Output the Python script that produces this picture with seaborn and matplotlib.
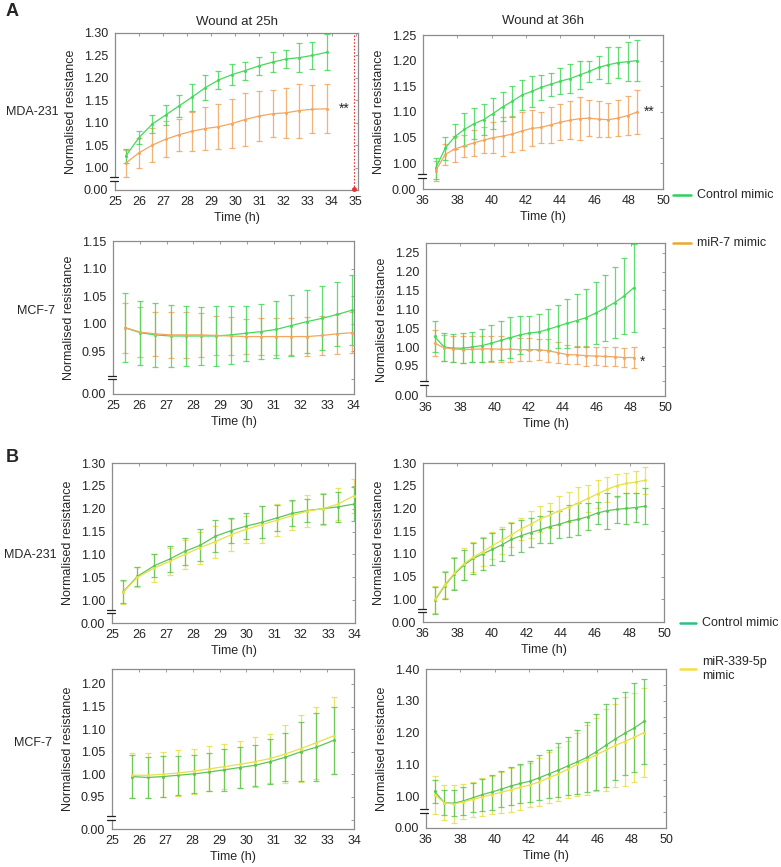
import matplotlib
matplotlib.use("Agg")
import matplotlib.pyplot as plt
import seaborn as sns
import numpy as np
import pandas as pd
from matplotlib.lines import Line2D
from matplotlib.patches import Rectangle

sns.set_theme(style="white")
plt.rcParams['font.family'] = ['Liberation Sans', 'DejaVu Sans']

# ---------------- data ----------------
# Panel A, MDA-231, wound at 25h
a1_t = [25.45, 26.0, 26.55, 27.1, 27.65, 28.2, 28.75, 29.3, 29.85, 30.4, 31.0, 31.55, 32.1, 32.65, 33.2, 33.8]
a1_ctrl = [1.026, 1.067, 1.097, 1.117, 1.137, 1.157, 1.178, 1.195, 1.207, 1.216, 1.227, 1.235, 1.242, 1.245, 1.250, 1.257]
a1_ctrl_err = [0.015, 0.015, 0.020, 0.022, 0.025, 0.030, 0.028, 0.020, 0.023, 0.020, 0.020, 0.023, 0.020, 0.032, 0.030, 0.040]
a1_mir = [1.010, 1.033, 1.050, 1.063, 1.073, 1.081, 1.087, 1.091, 1.098, 1.107, 1.115, 1.120, 1.122, 1.127, 1.130, 1.131]
a1_mir_err = [0.030, 0.033, 0.038, 0.040, 0.036, 0.043, 0.048, 0.050, 0.055, 0.060, 0.055, 0.052, 0.055, 0.060, 0.053, 0.055]

# Panel A, MDA-231, wound at 36h
a2_t = [36.73, 37.29, 37.85, 38.41, 38.97, 39.53, 40.09, 40.65, 41.21, 41.77, 42.33, 42.89, 43.45, 44.01, 44.57, 45.13, 45.69, 46.25, 46.81, 47.37, 47.93, 48.49]
a2_ctrl = [0.990, 1.029, 1.052, 1.066, 1.077, 1.085, 1.097, 1.110, 1.121, 1.133, 1.140, 1.148, 1.154, 1.160, 1.165, 1.172, 1.179, 1.187, 1.192, 1.196, 1.198, 1.200]
a2_ctrl_err = [0.020, 0.022, 0.025, 0.033, 0.030, 0.030, 0.030, 0.028, 0.030, 0.030, 0.030, 0.025, 0.022, 0.025, 0.028, 0.027, 0.020, 0.022, 0.035, 0.030, 0.038, 0.040]
a2_mir = [0.985, 1.017, 1.028, 1.034, 1.040, 1.045, 1.050, 1.053, 1.057, 1.063, 1.068, 1.070, 1.075, 1.080, 1.084, 1.087, 1.088, 1.086, 1.085, 1.088, 1.093, 1.100]
a2_mir_err = [0.020, 0.020, 0.025, 0.022, 0.025, 0.025, 0.030, 0.038, 0.035, 0.037, 0.035, 0.030, 0.035, 0.035, 0.037, 0.042, 0.035, 0.035, 0.033, 0.035, 0.038, 0.042]

# Panel A, MCF-7, wound at 25h
a3_t = [25.45, 26.02, 26.57, 27.15, 27.71, 28.28, 28.83, 29.39, 29.97, 30.53, 31.1, 31.66, 32.24, 32.81, 33.38, 33.94]
a3_ctrl = [0.993, 0.984, 0.980, 0.978, 0.978, 0.978, 0.978, 0.980, 0.983, 0.986, 0.990, 0.997, 1.004, 1.010, 1.017, 1.025]
a3_ctrl_err = [0.062, 0.058, 0.058, 0.057, 0.055, 0.052, 0.055, 0.053, 0.050, 0.050, 0.052, 0.055, 0.057, 0.058, 0.058, 0.063]
a3_mir = [0.993, 0.985, 0.982, 0.980, 0.980, 0.980, 0.979, 0.978, 0.977, 0.977, 0.977, 0.977, 0.977, 0.979, 0.982, 0.984]
a3_mir_err = [0.045, 0.045, 0.040, 0.042, 0.042, 0.040, 0.035, 0.034, 0.032, 0.033, 0.033, 0.034, 0.036, 0.035, 0.036, 0.037]

# Panel A, MCF-7, wound at 36h
a4_t = [36.5, 37.06, 37.61, 38.17, 38.72, 39.28, 39.83, 40.39, 40.94, 41.5, 42.05, 42.61, 43.16, 43.72, 44.27, 44.83, 45.38, 45.94, 46.49, 47.05, 47.6, 48.16]
a4_ctrl = [1.028, 1.000, 0.997, 0.997, 1.000, 1.004, 1.010, 1.018, 1.025, 1.032, 1.037, 1.040, 1.047, 1.055, 1.063, 1.070, 1.078, 1.090, 1.103, 1.118, 1.135, 1.157]
a4_ctrl_err = [0.040, 0.037, 0.038, 0.040, 0.040, 0.045, 0.048, 0.052, 0.055, 0.050, 0.045, 0.048, 0.055, 0.057, 0.065, 0.070, 0.077, 0.083, 0.087, 0.093, 0.100, 0.117]
a4_mir = [1.010, 0.998, 0.995, 0.993, 0.994, 0.995, 0.995, 0.994, 0.994, 0.993, 0.993, 0.993, 0.990, 0.985, 0.980, 0.979, 0.977, 0.976, 0.975, 0.974, 0.972, 0.972]
a4_mir_err = [0.035, 0.035, 0.035, 0.035, 0.035, 0.035, 0.035, 0.035, 0.033, 0.030, 0.030, 0.028, 0.030, 0.028, 0.025, 0.025, 0.027, 0.025, 0.025, 0.025, 0.025, 0.027]

# Panel B, MDA-231, 25h
b1_t = [25.41, 25.94, 26.56, 27.14, 27.70, 28.27, 28.83, 29.41, 29.97, 30.54, 31.12, 31.68, 32.24, 32.80, 33.37, 33.95]
b1_ctrl = [1.018, 1.052, 1.075, 1.090, 1.107, 1.120, 1.140, 1.152, 1.162, 1.170, 1.180, 1.190, 1.196, 1.200, 1.204, 1.210]
b1_ctrl_err = [0.025, 0.020, 0.025, 0.028, 0.030, 0.035, 0.035, 0.028, 0.028, 0.035, 0.028, 0.028, 0.025, 0.033, 0.033, 0.037]
b1_mir = [1.017, 1.050, 1.070, 1.085, 1.100, 1.115, 1.128, 1.143, 1.155, 1.165, 1.175, 1.185, 1.195, 1.200, 1.210, 1.228]
b1_mir_err = [0.025, 0.022, 0.030, 0.030, 0.032, 0.035, 0.035, 0.035, 0.030, 0.040, 0.035, 0.032, 0.035, 0.035, 0.035, 0.038]

# Panel B, MDA-231, 36h
b2_t = [36.7, 37.26, 37.81, 38.37, 38.92, 39.48, 40.03, 40.59, 41.14, 41.7, 42.25, 42.81, 43.36, 43.92, 44.47, 45.03, 45.58, 46.14, 46.69, 47.25, 47.8, 48.36, 48.91]
b2_ctrl = [0.998, 1.030, 1.055, 1.075, 1.090, 1.100, 1.110, 1.120, 1.132, 1.140, 1.147, 1.153, 1.160, 1.165, 1.172, 1.176, 1.182, 1.190, 1.195, 1.198, 1.200, 1.202, 1.205]
b2_ctrl_err = [0.030, 0.030, 0.035, 0.033, 0.035, 0.035, 0.035, 0.035, 0.035, 0.035, 0.033, 0.030, 0.035, 0.030, 0.035, 0.035, 0.030, 0.025, 0.040, 0.030, 0.035, 0.032, 0.040]
b2_mir = [1.000, 1.032, 1.057, 1.078, 1.093, 1.105, 1.118, 1.130, 1.142, 1.155, 1.165, 1.177, 1.185, 1.195, 1.203, 1.212, 1.222, 1.232, 1.242, 1.250, 1.255, 1.258, 1.262]
b2_mir_err = [0.030, 0.030, 0.035, 0.035, 0.033, 0.032, 0.030, 0.030, 0.028, 0.025, 0.030, 0.028, 0.028, 0.032, 0.033, 0.035, 0.030, 0.030, 0.028, 0.025, 0.022, 0.025, 0.030]

# Panel B, MCF-7, 25h
b3_t = [25.76, 26.33, 26.9, 27.47, 28.05, 28.61, 29.18, 29.75, 30.32, 30.89, 31.45, 32.03, 32.6, 33.24]
b3_ctrl = [0.995, 0.993, 0.995, 0.998, 1.001, 1.005, 1.010, 1.015, 1.020, 1.028, 1.038, 1.050, 1.060, 1.075]
b3_ctrl_err = [0.047, 0.045, 0.045, 0.043, 0.042, 0.042, 0.047, 0.045, 0.045, 0.050, 0.053, 0.065, 0.075, 0.075]
b3_mir = [0.998, 0.998, 1.000, 1.003, 1.007, 1.012, 1.017, 1.022, 1.028, 1.035, 1.045, 1.057, 1.070, 1.085]
b3_mir_err = [0.050, 0.050, 0.050, 0.050, 0.050, 0.050, 0.050, 0.052, 0.055, 0.055, 0.065, 0.075, 0.080, 0.085]

# Panel B, MCF-7, 36h
b4_t = [36.5, 37.06, 37.61, 38.17, 38.72, 39.28, 39.83, 40.39, 40.94, 41.5, 42.05, 42.61, 43.16, 43.72, 44.27, 44.83, 45.38, 45.94, 46.49, 47.05, 47.6, 48.16, 48.71]
b4_ctrl = [1.015, 0.980, 0.978, 0.985, 0.995, 1.005, 1.013, 1.022, 1.032, 1.040, 1.047, 1.058, 1.070, 1.082, 1.095, 1.108, 1.122, 1.140, 1.160, 1.180, 1.198, 1.215, 1.235]
b4_ctrl_err = [0.035, 0.040, 0.040, 0.045, 0.045, 0.050, 0.055, 0.057, 0.060, 0.060, 0.065, 0.070, 0.075, 0.085, 0.090, 0.100, 0.110, 0.120, 0.130, 0.130, 0.130, 0.140, 0.135]
b4_mir = [1.005, 0.980, 0.975, 0.982, 0.990, 0.998, 1.005, 1.012, 1.020, 1.028, 1.035, 1.045, 1.058, 1.070, 1.085, 1.100, 1.115, 1.130, 1.145, 1.160, 1.172, 1.185, 1.200]
b4_mir_err = [0.060, 0.055, 0.060, 0.055, 0.055, 0.060, 0.060, 0.065, 0.070, 0.070, 0.070, 0.075, 0.080, 0.085, 0.090, 0.100, 0.110, 0.115, 0.130, 0.130, 0.140, 0.140, 0.140]

# axes tick definitions (first tick stands for the broken 0.00 level)
x_ticks_25_35 = [25, 26, 27, 28, 29, 30, 31, 32, 33, 34, 35]
x_ticks_25_34 = [25, 26, 27, 28, 29, 30, 31, 32, 33, 34]
x_ticks_36 = [36, 38, 40, 42, 44, 46, 48, 50]

a1_yticks = [0.95, 1.00, 1.05, 1.10, 1.15, 1.20, 1.25, 1.30]
a1_ylabels = ['0.00', '1.00', '1.05', '1.10', '1.15', '1.20', '1.25', '1.30']
a2_yticks = [0.95, 1.00, 1.05, 1.10, 1.15, 1.20, 1.25]
a2_ylabels = ['0.00', '1.00', '1.05', '1.10', '1.15', '1.20', '1.25']
a3_yticks = [0.873, 0.95, 1.00, 1.05, 1.10, 1.15]
a3_ylabels = ['0.00', '0.95', '1.00', '1.05', '1.10', '1.15']
a4_yticks = [0.87, 0.95, 1.00, 1.05, 1.10, 1.15, 1.20, 1.25]
a4_ylabels = ['0.00', '0.95', '1.00', '1.05', '1.10', '1.15', '1.20', '1.25']
b1_yticks = [0.95, 1.00, 1.05, 1.10, 1.15, 1.20, 1.25, 1.30]
b1_ylabels = ['0.00', '1.00', '1.05', '1.10', '1.15', '1.20', '1.25', '1.30']
b3_yticks = [0.879, 0.95, 1.00, 1.05, 1.10, 1.15, 1.20]
b3_ylabels = ['0.00', '0.95', '1.00', '1.05', '1.10', '1.15', '1.20']
b4_yticks = [0.90, 1.00, 1.10, 1.20, 1.30, 1.40]
b4_ylabels = ['0.00', '1.00', '1.10', '1.20', '1.30', '1.40']

# ---------------- styling ----------------
W, H = 781, 867
fig = plt.figure(figsize=(W / 100, H / 100), dpi=100)

GREEN_A = '#45d95a'
ORANGE_A = '#f2a65e'
GREEN_B = '#5cc655'
YELLOW_B = '#e6e04a'
SPINE = '#8c8c8c'
FS = 9


def add_axes(l, t, r, b):
    return fig.add_axes([l / W, 1 - b / H, (r - l) / W, (b - t) / H])


def panel(ax, t, c, ce, m, me, col_c, col_m, xlim, xticks, yticks, ylabels, ylim, brk, minor_y=None):
    df = pd.DataFrame({
        't': list(t) * 2,
        'v': list(c) + list(m),
        'g': ['ctrl'] * len(t) + ['mir'] * len(t),
    })
    ax.errorbar(t, m, yerr=me, fmt='none', ecolor=col_m, elinewidth=0.9, capsize=2, capthick=0.9, alpha=0.85, zorder=2)
    ax.errorbar(t, c, yerr=ce, fmt='none', ecolor=col_c, elinewidth=0.9, capsize=2, capthick=0.9, alpha=0.85, zorder=3)
    sns.lineplot(data=df, x='t', y='v', hue='g', palette={'ctrl': col_c, 'mir': col_m},
                 marker='o', markersize=2.2, markeredgewidth=0, linewidth=0.9,
                 legend=False, ax=ax, zorder=4)
    ax.set_xlim(*xlim)
    ax.set_ylim(*ylim)
    ax.set_xticks(xticks)
    ax.set_xticklabels([str(v) for v in xticks], fontsize=FS)
    ax.set_yticks(yticks)
    ax.set_yticklabels(ylabels, fontsize=FS)
    if minor_y is not None:
        ax.set_yticks(minor_y, minor=True)
    ax.tick_params(which='both', direction='in', length=2.5, width=0.6, color=SPINE,
                   top=True, right=True)
    ax.tick_params(axis='x', pad=4.5)
    ax.tick_params(axis='y', pad=5)
    for s in ax.spines.values():
        s.set_color(SPINE)
        s.set_linewidth(0.9)
    ax.set_xlabel('Time (h)', fontsize=FS, labelpad=3)
    ax.set_ylabel('Normalised resistance', fontsize=FS, labelpad=5)
    # axis-break mark on the left spine
    bbox = ax.get_position()
    hpx = bbox.height * H
    wpx = bbox.width * W
    f = (brk - ylim[0]) / (ylim[1] - ylim[0])
    dy = 1.8 / hpx
    ax.add_patch(Rectangle((-1.5 / wpx, f - dy), 3 / wpx, 2 * dy, transform=ax.transAxes,
                           facecolor='white', edgecolor='none', clip_on=False, zorder=6))
    for yy in (f - dy, f + dy):
        ax.add_line(Line2D([-5.5 / wpx, 2.5 / wpx], [yy, yy], transform=ax.transAxes,
                           color='#222222', lw=0.9, clip_on=False, zorder=7))


# ---- Panel A ----
ax1 = add_axes(115, 33, 358, 190)
panel(ax1, a1_t, a1_ctrl, a1_ctrl_err, a1_mir, a1_mir_err, GREEN_A, ORANGE_A,
      (25, 35.1), x_ticks_25_35, a1_yticks, a1_ylabels, (0.95, 1.30), 0.975)
ax1.axvline(34.95, color='#e83030', lw=0.8, ls=(0, (1.5, 1.5)), zorder=5)
ax1.plot([34.95], [0.952], 'o', color='#e83030', markersize=2.5, clip_on=False, zorder=6)
ax1.text(34.3, 1.13, '**', fontsize=FS + 1, va='center', ha='left')
ax1.set_title('Wound at 25h', fontsize=FS + 0.5, pad=6)

ax2 = add_axes(423, 35, 663, 189)
panel(ax2, a2_t, a2_ctrl, a2_ctrl_err, a2_mir, a2_mir_err, GREEN_A, ORANGE_A,
      (36, 50), x_ticks_36, a2_yticks, a2_ylabels, (0.95, 1.25), 0.975)
ax2.text(48.9, 1.10, '**', fontsize=FS + 1, va='center', ha='left')
ax2.set_title('Wound at 36h', fontsize=FS + 0.5, pad=8)

ax3 = add_axes(113, 241, 354, 394)
panel(ax3, a3_t, a3_ctrl, a3_ctrl_err, a3_mir, a3_mir_err, GREEN_A, ORANGE_A,
      (25, 34), x_ticks_25_34, a3_yticks, a3_ylabels, (0.873, 1.15), 0.903, minor_y=[0.90])

ax4 = add_axes(426, 243, 665, 396)
panel(ax4, a4_t, a4_ctrl, a4_ctrl_err, a4_mir, a4_mir_err, GREEN_A, ORANGE_A,
      (36, 50), x_ticks_36, a4_yticks, a4_ylabels, (0.87, 1.276), 0.905, minor_y=[0.91])
ax4.text(48.5, 0.962, '*', fontsize=FS + 1, va='center', ha='left')

# ---- Panel B ----
ax5 = add_axes(112, 463, 355, 623)
panel(ax5, b1_t, b1_ctrl, b1_ctrl_err, b1_mir, b1_mir_err, GREEN_B, YELLOW_B,
      (25, 34), x_ticks_25_34, b1_yticks, b1_ylabels, (0.95, 1.30), 0.975)

ax6 = add_axes(423, 463, 664, 622)
panel(ax6, b2_t, b2_ctrl, b2_ctrl_err, b2_mir, b2_mir_err, GREEN_B, YELLOW_B,
      (36, 50), x_ticks_36, b1_yticks, b1_ylabels, (0.95, 1.30), 0.975)

ax7 = add_axes(112, 669, 354, 829)
panel(ax7, b3_t, b3_ctrl, b3_ctrl_err, b3_mir, b3_mir_err, GREEN_B, YELLOW_B,
      (25, 34), x_ticks_25_34, b3_yticks, b3_ylabels, (0.879, 1.233), 0.903, minor_y=[0.90])

ax8 = add_axes(426, 669, 666, 828)
panel(ax8, b4_t, b4_ctrl, b4_ctrl_err, b4_mir, b4_mir_err, GREEN_B, YELLOW_B,
      (36, 50), x_ticks_36, b4_yticks, b4_ylabels, (0.90, 1.40), 0.953,
      minor_y=[0.95, 1.05, 1.15, 1.25, 1.35])

# ---- labels ----
def ftext(x, y, s, **kw):
    fig.text(x / W, 1 - y / H, s, **kw)

ftext(12, 12, 'A', fontsize=13, fontweight='bold', ha='center', va='center')
ftext(12, 457, 'B', fontsize=13, fontweight='bold', ha='center', va='center')
ftext(32, 112, 'MDA-231', fontsize=FS, ha='center', va='center')
ftext(36, 311, 'MCF-7', fontsize=FS, ha='center', va='center')
ftext(30, 555, 'MDA-231', fontsize=FS, ha='center', va='center')
ftext(33, 743, 'MCF-7', fontsize=FS, ha='center', va='center')


def leg(x0, x1, y, color, label, ty=None):
    fig.add_artist(Line2D([x0 / W, x1 / W], [1 - y / H, 1 - y / H], color=color, lw=1.8))
    ftext(x1 + 6, y if ty is None else ty, label, fontsize=FS, ha='left', va='center')

leg(673, 691, 195, '#2fd060', 'Control mimic')
leg(673, 691, 243, '#eaa830', 'miR-7 mimic')
leg(680, 696, 623, '#2fc080', 'Control mimic')
leg(680, 696, 669, '#f2e040', 'miR-339-5p\nmimic', ty=669)

fig.savefig('out.png', dpi=100)
